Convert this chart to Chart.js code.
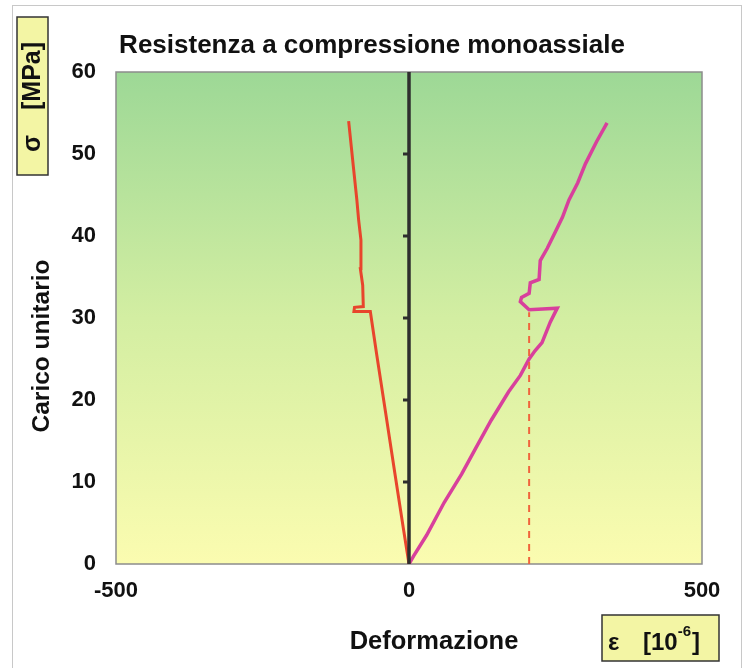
<!DOCTYPE html>
<html lang="it">
<head>
<meta charset="utf-8">
<title>Resistenza a compressione monoassiale</title>
<script src="https://cdn.jsdelivr.net/npm/chart.js@4.4.1/dist/chart.umd.min.js"></script>
<style>
  html, body { margin: 0; padding: 0; background: #ffffff; }
  #wrap { width: 747px; height: 668px; position: relative; }
</style>
</head>
<body>
<div id="wrap"><canvas id="chart" width="747" height="668"></canvas></div>
<script>
// deformazione laterale (negativa) e assiale (positiva), in 10^-6
const lateralStrain = [0, -10, -24, -40, -55, -66, -94, -93, -78, -79, -83, -82, -82, -86, -89, -95, -103];
const lateralStress = [0, 4.5, 11, 18.5, 25.5, 30.8, 30.8, 31.3, 31.4, 34, 36, 37, 39.5, 42, 44.4, 48.5, 54];

const axialStrain = [0, 8, 30, 60, 90, 113, 140, 170, 190, 205, 215, 227, 241, 253, 205, 190, 192, 205, 207, 222, 224, 236, 249, 262, 273, 288, 301, 320, 338];
const axialStress = [0, 1, 3.5, 7.5, 11, 14, 17.5, 21, 23, 25, 26, 27, 29.5, 31.2, 31, 32, 32.5, 33, 34.3, 34.7, 37, 38.5, 40.4, 42.3, 44.4, 46.5, 48.8, 51.5, 53.8];

const limitStrain = [205, 205];
const limitStress = [0, 30.7];

const axisStrain = [0, 0];
const axisStress = [0, 60];
const axisTickStress = [10, 20, 30, 40, 50];

const xTicks = [-500, 0, 500];
const yTicks = [0, 10, 20, 30, 40, 50, 60];

const FONT = '"Liberation Sans", Arial, Helvetica, sans-serif';

const toPoints = (xs, ys) => xs.map((x, i) => ({ x, y: ys[i] }));

function drawBox(ctx, x, y, w, h) {
  ctx.fillStyle = "#f3f5a4";
  ctx.strokeStyle = "#333333";
  ctx.lineWidth = 1.5;
  ctx.fillRect(x, y, w, h);
  ctx.strokeRect(x, y, w, h);
}

const framePlugin = {
  id: "frame",
  beforeDraw(chart) {
    const { ctx, chartArea: a } = chart;
    ctx.save();
    ctx.fillStyle = "#ffffff";
    ctx.fillRect(0, 0, chart.width, chart.height);
    ctx.strokeStyle = "#c8c8c8";
    ctx.lineWidth = 1;
    ctx.strokeRect(12.5, 5.5, 729, 680);

    const grad = ctx.createLinearGradient(0, a.top, 0, a.bottom);
    grad.addColorStop(0, "#9dd896");
    grad.addColorStop(0.5, "#d3eea2");
    grad.addColorStop(1, "#fbfcb0");
    ctx.fillStyle = grad;
    ctx.fillRect(a.left, a.top, a.right - a.left, a.bottom - a.top);
    ctx.strokeStyle = "#8c8c8c";
    ctx.lineWidth = 1.5;
    ctx.strokeRect(a.left, a.top, a.right - a.left, a.bottom - a.top);
    ctx.restore();
  },
  afterDraw(chart) {
    const { ctx } = chart;
    ctx.save();
    ctx.fillStyle = "#111111";
    ctx.textAlign = "center";
    ctx.textBaseline = "middle";

    ctx.font = `bold 26px ${FONT}`;
    ctx.fillText("Resistenza a compressione monoassiale", 372, 46);

    ctx.font = `bold 25.5px ${FONT}`;
    ctx.fillText("Deformazione", 434, 642);

    ctx.save();
    ctx.font = `bold 24.5px ${FONT}`;
    ctx.translate(42, 346);
    ctx.rotate(-Math.PI / 2);
    ctx.fillText("Carico unitario", 0, 0);
    ctx.restore();

    // riquadro unità asse y
    drawBox(ctx, 17, 17, 31, 158);
    ctx.save();
    ctx.translate(33, 0);
    ctx.rotate(-Math.PI / 2);
    ctx.fillStyle = "#111111";
    ctx.textAlign = "left";
    ctx.font = `bold 25px ${FONT}`;
    ctx.fillText("σ", -152, 0);
    ctx.fillText("[MPa]", -110, 0);
    ctx.restore();

    // riquadro unità asse x
    drawBox(ctx, 602, 615, 117, 46);
    ctx.fillStyle = "#111111";
    ctx.textAlign = "left";
    ctx.textBaseline = "alphabetic";
    ctx.font = `bold 24px ${FONT}`;
    ctx.fillText("ε", 608, 650);
    let x = 643;
    ctx.fillText("[10", x, 650);
    x += ctx.measureText("[10").width;
    ctx.font = `bold 15px ${FONT}`;
    ctx.fillText("-6", x, 636);
    x += ctx.measureText("-6").width + 1;
    ctx.font = `bold 24px ${FONT}`;
    ctx.fillText("]", x, 650);
    ctx.restore();
  }
};

new Chart(document.querySelector("#chart"), {
  type: "scatter",
  data: {
    datasets: [
      {
        data: toPoints(axisStrain, axisStress),
        showLine: true,
        borderColor: "#2e2e2e",
        borderWidth: 3.5,
        pointRadius: 0
      },
      {
        data: toPoints(axisTickStress.map(() => 0), axisTickStress),
        showLine: false,
        pointStyle: "dash",
        rotation: 180,
        radius: 6,
        borderColor: "#2e2e2e",
        borderWidth: 3
      },
      {
        data: toPoints(limitStrain, limitStress),
        showLine: true,
        borderColor: "#f0643c",
        borderWidth: 2,
        borderDash: [7, 6],
        pointRadius: 0
      },
      {
        data: toPoints(lateralStrain, lateralStress),
        showLine: true,
        borderColor: "#e8452c",
        borderWidth: 3,
        pointRadius: 0,
        tension: 0
      },
      {
        data: toPoints(axialStrain, axialStress),
        showLine: true,
        borderColor: "#d8409c",
        borderWidth: 3.5,
        pointRadius: 0,
        tension: 0
      }
    ]
  },
  options: {
    responsive: false,
    animation: false,
    events: [],
    layout: { padding: { top: 72, right: 45, left: 0, bottom: 0 } },
    plugins: {
      legend: { display: false },
      tooltip: { enabled: false }
    },
    scales: {
      x: {
        type: "linear",
        min: -500,
        max: 500,
        afterFit: (scale) => { scale.height = 104; },
        afterBuildTicks: (scale) => { scale.ticks = xTicks.map((value) => ({ value })); },
        grid: { display: false, drawTicks: false },
        border: { display: false },
        ticks: { color: "#111111", padding: 14, maxRotation: 0, font: { family: FONT, size: 22, weight: "bold" } }
      },
      y: {
        type: "linear",
        min: 0,
        max: 60,
        afterFit: (scale) => { scale.width = 116; },
        afterBuildTicks: (scale) => { scale.ticks = yTicks.map((value) => ({ value })); },
        grid: { display: false, drawTicks: false },
        border: { display: false },
        ticks: { color: "#111111", padding: 20, font: { family: FONT, size: 22, weight: "bold" } }
      }
    }
  },
  plugins: [framePlugin]
});
</script>
</body>
</html>
